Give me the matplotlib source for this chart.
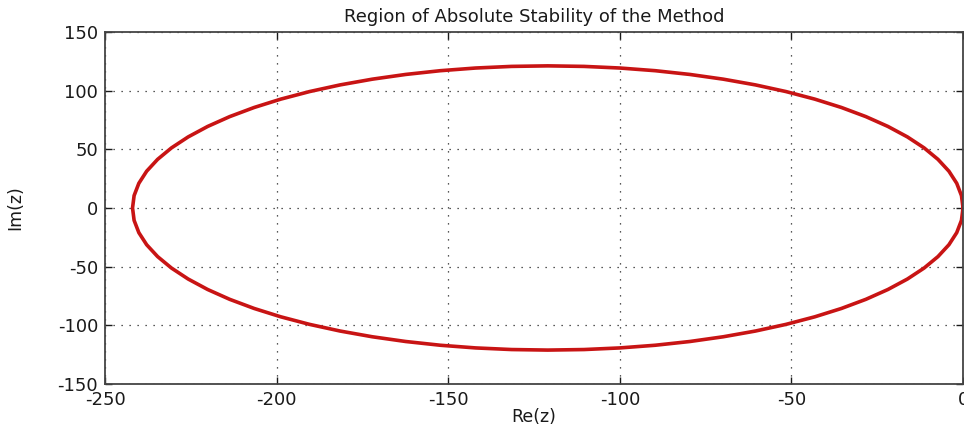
import matplotlib
matplotlib.use("Agg")
import matplotlib.pyplot as plt

# Boundary points (Re(z), Im(z)), going counter-clockwise
re_z = [0.0, -0.46, -1.84, -4.12, -7.30, -11.34, -16.21, -21.88, -28.31, -35.44,
        -43.22, -51.60, -60.50, -69.86, -79.62, -89.68, -99.99, -110.45, -121.0,
        -131.55, -142.01, -152.32, -162.38, -172.14, -181.50, -190.40, -198.78,
        -206.56, -213.69, -220.12, -225.79, -230.66, -234.70, -237.88, -240.16,
        -241.54, -242.0,
        -241.54, -240.16, -237.88, -234.70, -230.66, -225.79, -220.12, -213.69,
        -206.56, -198.78, -190.40, -181.50, -172.14, -162.38, -152.32, -142.01,
        -131.55, -121.0, -110.45, -99.99, -89.68, -79.62, -69.86, -60.50, -51.60,
        -43.22, -35.44, -28.31, -21.88, -16.21, -11.34, -7.30, -4.12, -1.84,
        -0.46, 0.0]
im_z = [0.0, 10.55, 21.01, 31.32, 41.38, 51.14, 60.50, 69.40, 77.78, 85.56,
        92.69, 99.12, 104.79, 109.66, 113.70, 116.88, 119.16, 120.54, 121.0,
        120.54, 119.16, 116.88, 113.70, 109.66, 104.79, 99.12, 92.69,
        85.56, 77.78, 69.40, 60.50, 51.14, 41.38, 31.32, 21.01,
        10.55, 0.0,
        -10.55, -21.01, -31.32, -41.38, -51.14, -60.50, -69.40, -77.78,
        -85.56, -92.69, -99.12, -104.79, -109.66, -113.70, -116.88, -119.16,
        -120.54, -121.0, -120.54, -119.16, -116.88, -113.70, -109.66, -104.79, -99.12,
        -92.69, -85.56, -77.78, -69.40, -60.50, -51.14, -41.38, -31.32, -21.01,
        -10.55, 0.0]

x_ticks = [-250, -200, -150, -100, -50, 0]
y_ticks = [-150, -100, -50, 0, 50, 100, 150]

title = "Region of Absolute Stability of the Method"

plt.rcParams['font.family'] = ['DejaVu Sans']
plt.rcParams['axes.unicode_minus'] = False

fig = plt.figure(figsize=(9.64, 4.24), dpi=100)
ax = fig.add_axes([0.109, 0.094, 0.890, 0.831])

ax.plot(re_z, im_z, color='#c81414', linewidth=2.6, solid_joinstyle='round')

ax.set_xlim(-250, 0)
ax.set_ylim(-150, 150)
ax.set_xticks(x_ticks)
ax.set_yticks(y_ticks)
ax.tick_params(direction='in', top=True, right=True, length=5, width=1,
               labelsize=13, colors='#1a1a1a', pad=5)
ax.grid(True, color='#222222', linestyle=(0, (1, 5.4)), linewidth=0.9)
for s in ax.spines.values():
    s.set_color('#444444')
    s.set_linewidth(1.3)

ax.set_title(title, fontsize=13, color='#1a1a1a', pad=7)
ax.set_xlabel('Re(z)', fontsize=12.5, color='#1a1a1a', labelpad=-1)
ax.set_ylabel('Im(z)', fontsize=12.5, color='#1a1a1a', labelpad=24)

fig.savefig('out.png', dpi=100)
